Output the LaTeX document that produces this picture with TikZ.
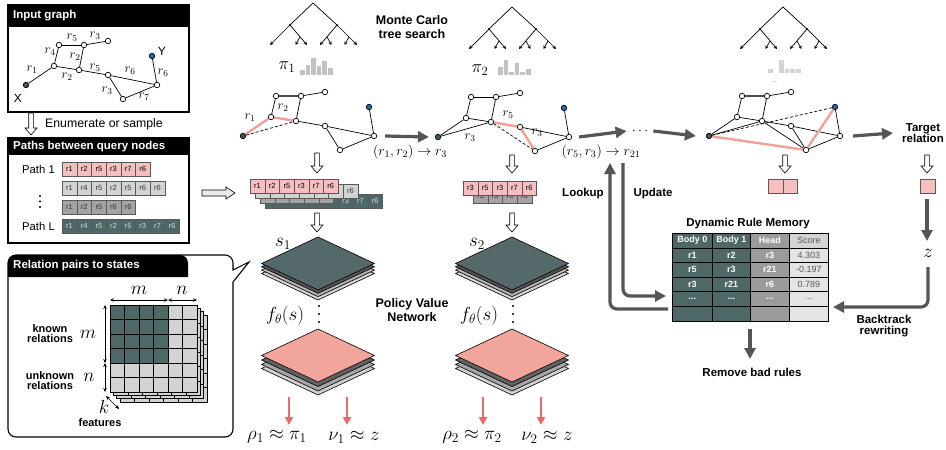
\RequirePackage{fix-cm}
\documentclass[tikz,border=0pt]{standalone}
\usepackage[no-math]{fontspec}
\setmainfont{Liberation Sans}
\usetikzlibrary{arrows.meta}
\definecolor{pinkc}{HTML}{F6BEBE}
\definecolor{salmon}{HTML}{F1A59C}
\definecolor{pinkedge}{HTML}{F2A197}
\definecolor{pinkarrow}{HTML}{E86A6C}
\definecolor{tealc}{HTML}{4D6866}
\definecolor{diamc}{HTML}{56696A}
\definecolor{lgrey}{HTML}{D3D3D3}
\definecolor{mgrey}{HTML}{A3A3A3}
\definecolor{dgrey}{HTML}{555555}
\definecolor{bluenode}{HTML}{2868A8}
\definecolor{xnode}{HTML}{3F5A5A}
\definecolor{headg}{HTML}{9B9B9B}
\definecolor{scoreg}{HTML}{E4E4E4}
\definecolor{barg}{HTML}{C2C2C2}
\newcommand\fsz[1]{\fontsize{#1}{#1}\selectfont}
\newcommand\tdots{...}
\tikzset{
 vtx/.style={circle,draw,fill=white,inner sep=0pt,minimum size=5.5pt,line width=0.7pt},
 vx/.style={vtx,fill=xnode},
 vy/.style={vtx,fill=bluenode},
 gedge/.style={line width=0.7pt},
 pedge/.style={line width=2.4pt,draw=pinkedge},
 dedge/.style={line width=0.7pt,dash pattern=on 3pt off 2pt},
 glab/.style={inner sep=0pt,font=\fsz{13}},
 hdrtxt/.style={anchor=west,text=white,font=\bfseries\fsz{11.5},inner sep=0pt},
 cellbox/.style={draw=black!65,line width=0.5pt,minimum width=14.65pt,minimum height=13.5pt,inner sep=0pt,anchor=north west,font=\fsz{7.5}},
 tdot/.style={circle,fill=black,inner sep=0pt,minimum size=2.2pt},
 tline/.style={line width=0.7pt},
 tarr/.style={line width=0.7pt,-{Stealth[length=3.5pt,width=3.5pt]}},
 bigarrow/.style={draw=dgrey,line width=3.2pt,-{Triangle[length=11pt,width=11pt]},rounded corners=7pt},
 parrow/.style={draw=pinkarrow,line width=2.3pt,-{Triangle[length=8pt,width=8pt]}},
 blab/.style={font=\bfseries\fsz{11.5},align=center,inner sep=1pt},
 bigmath/.style={font=\fsz{19},inner sep=0pt},
 tcell/.style={draw=black,line width=0.6pt,inner sep=0pt,anchor=north west,minimum height=14.6pt,font=\bfseries\fsz{9},text=white},
}
\newcommand\mkgraph[3]{%
 \foreach \n/\x/\y in {a/54/66,b/59/45,c/84/45,d/108/41,e/79/70,f/108/75,g/157/85,h/123/99}
   {\node[vtx] (#1\n) at ({\x+#2},{\y+#3}) {};}
 \node[vx] (#1X) at ({26+#2},{85+#3}) {};
 \node[vy] (#1Y) at ({152+#2},{56+#3}) {};
 \foreach \u/\v in {X/a,a/b,b/c,c/d,c/e,a/e,e/f,f/g,Y/g,f/h,h/g} \draw[gedge] (#1\u) -- (#1\v);
}
\newcommand\cellrow[6]{%
 \foreach \t [count=\i from 0] in {#6}{\node[cellbox,fill=#4,text=#5] (#1\i) at ({#2+\i*14.65},{#3}) {\t};}}
\newcommand\hdown[3]{%
 \draw[line width=0.6pt,fill=white] ({#1-2.3},{#2}) -- ({#1-2.3},{#3-7}) -- ({#1-6},{#3-7}) -- ({#1},{#3}) -- ({#1+6},{#3-7}) -- ({#1+2.3},{#3-7}) -- ({#1+2.3},{#2}) -- cycle;}
\newcommand\vdotsat[3]{%
 \foreach \dy in {0,#3,2*#3} \fill ({#1},{#2+\dy}) circle (1.1);}
\newcommand\mctree[3]{%
 \begin{scope}[shift={(#2,#3)}]
  \coordinate (#1r) at (0,0);
  \node[tdot] (#1L) at (-23,22) {};
  \node[tdot] (#1R) at (24,22) {};
  \draw[tline] (#1r) -- (#1L.center);
  \draw[tline] (#1r) -- (#1R.center);
  \draw[tarr] (#1L.center) -- (-43,42);
  \draw[tarr] (#1L.center) -- (-6,42);
  \draw[tarr] (#1R.center) -- (7,42);
  \draw[tarr] (#1R.center) -- (44,42);
  \draw[tarr] (-13,34) -- (-17.5,42);
  \draw[tarr] (14,34) -- (18.5,42);
  \draw[tarr] (36,34) -- (31.5,42);
 \end{scope}}
\newcommand\bars[4]{%
 \foreach \h [count=\i from 0] in {#4} \fill[#3] ({#1+\i*5.6},{#2}) rectangle ++(4.6,-\h);}
\newcommand\diam[4]{%
 \filldraw[fill=#4,line width=0.6pt] ({#1},{#2+#3}) -- ({#1+56.5},{#2+#3+26.5}) -- ({#1},{#2+#3+53}) -- ({#1-56.5},{#2+#3+26.5}) -- cycle;}
\begin{document}
\begin{tikzpicture}[x=1pt,y=-1pt]
\useasboundingbox (0,0) rectangle (946,450);

% ---------- Box 1: input graph
\fill (8,5) rectangle (189,27);
\draw[line width=1.1pt] (8,5) rectangle (189,112);
\node[hdrtxt] (h1) at (13,16) {Input graph};
\mkgraph{G}{0}{0}
\foreach \t/\x/\y [count=\i] in {1/32/70,4/50/52,5/72/38,3/95/36,2/75/57,2/67/77,5/95/68,6/130/71,6/163/73,3/107/91,7/144/97}
  \node[glab] (gl\i) at (\x,\y) {$r_{\t}$};
\node[font=\fsz{12},inner sep=0pt] (lx) at (18,98) {X};
\node[font=\fsz{12},inner sep=0pt] (ly) at (162,51) {Y};

\hdown{31}{113}{135}
\node[anchor=west,font=\fsz{12.3},inner sep=0pt] (enum) at (45,124) {Enumerate or sample};

% ---------- Box 2: paths
\fill (8,138) rectangle (189,155);
\draw[line width=1.1pt] (8,138) rectangle (189,243);
\node[hdrtxt] (h2) at (13,146.5) {Paths between query nodes};
\cellrow{pa}{62}{162}{pinkc}{black}{r1,r2,r5,r3,r7,r6}
\cellrow{pb}{62}{181}{lgrey}{black!80}{r1,r4,r5,r2,r5,r6,r6}
\cellrow{pc}{62}{200}{mgrey}{black!80}{r1,r2,r5,r6,r6}
\cellrow{pd}{62}{219}{tealc}{white!85!black}{r1,r4,r5,r2,r5,r3,r7,r6}
\node[anchor=east,font=\fsz{11.3},inner sep=0pt] (p1l) at (55,169) {Path 1};
\node[anchor=east,font=\fsz{11.3},inner sep=0pt] (pLl) at (55,226) {Path L};
\vdotsat{40}{196}{5.5}

% ---------- Box 3: relation pairs (speech bubble)
\fill (8,277) {[rounded corners=8pt] -- (8,255) -- (188,255)} -- (188,277) -- cycle;
\draw[line width=1.1pt] (249,262) -- (233,270) [rounded corners=8pt] -- (233,255) -- (8,255) -- (8,437) -- (233,437) [sharp corners] -- (233,282) -- cycle;
\node[hdrtxt] (h3) at (13,266) {Relation pairs to states};
\foreach \o in {10,6.6,3.3}{
  \filldraw[fill=lgrey,line width=0.6pt] ({110+\o},{305+\o}) rectangle ++(87,87);
  \foreach \k in {1,...,5}{
    \draw[line width=0.6pt] ({110+\o+\k*14.5},{305+\o}) -- ++(0,87);
    \draw[line width=0.6pt] ({110+\o},{305+\o+\k*14.5}) -- ++(87,0);}}
\filldraw[fill=lgrey,line width=0.7pt] (110,305) rectangle ++(87,87);
\fill[tealc] (110,305) rectangle ++(58,58);
\foreach \k in {1,...,5}{
  \draw[line width=0.6pt] ({110+\k*14.5},305) -- ++(0,87);
  \draw[line width=0.6pt] (110,{305+\k*14.5}) -- ++(87,0);}
\draw[line width=0.7pt] (110,305) rectangle ++(87,87);
\coordinate (mh0) at (110,300); \coordinate (mh1) at (168,300); \coordinate (mh2) at (197,300);
\coordinate (mv0) at (105,305); \coordinate (mv1) at (105,363); \coordinate (mv2) at (105,392);
\coordinate (mk0) at (106,396); \coordinate (mk1) at (119,409);
\draw[{Stealth[length=4pt,width=3.5pt]}-{Stealth[length=4pt,width=3.5pt]},line width=0.7pt] (mh0) -- (mh1);
\draw[{Stealth[length=4pt,width=3.5pt]}-{Stealth[length=4pt,width=3.5pt]},line width=0.7pt] (mh1) -- (mh2);
\draw[{Stealth[length=4pt,width=3.5pt]}-{Stealth[length=4pt,width=3.5pt]},line width=0.7pt] (mv0) -- (mv1);
\draw[{Stealth[length=4pt,width=3.5pt]}-{Stealth[length=4pt,width=3.5pt]},line width=0.7pt] (mv1) -- (mv2);
\draw[{Stealth[length=4pt,width=3.5pt]}-{Stealth[length=4pt,width=3.5pt]},line width=0.7pt] (mk0) -- (mk1);
\node[bigmath] (lm1) at (139,290) {$m$};
\node[bigmath] (ln1) at (182,290) {$n$};
\node[bigmath] (lm2) at (88,334) {$m$};
\node[bigmath] (ln2) at (89,377) {$n$};
\node[bigmath] (lk) at (104,407) {$k$};
\node[blab,font=\bfseries\fsz{11}] (known) at (50,334) {known\\[-1pt]relations};
\node[blab,font=\bfseries\fsz{11}] (unknown) at (50,381) {unknown\\[-1pt]relations};
\node[blab,font=\bfseries\fsz{11}] (feat) at (100,423) {features};

% ---------- MCTS trees and distributions
\mctree{t1}{313}{3}
\mctree{t2}{512}{7}
\mctree{t3}{783}{7}
\node[blab,font=\bfseries\fsz{12.5},align=center] (mcts) at (412,27) {Monte Carlo\\[1pt]tree search};
\node[bigmath,font=\fsz{18}] (pi1) at (287,67) {$\pi_1$};
\bars{300}{75}{barg}{5,10,17,9,14,7}
\node[bigmath,font=\fsz{18}] (pi2) at (480,70) {$\pi_2$};
\bars{498}{75}{barg}{8,15,3,12,3,6}
\bars{768}{73}{barg!70}{4,0,13,4,4,4}
\fill[barg!50] (771,80.5) rectangle (777,82);

% ---------- Graphs along the search
\mkgraph{B}{217}{51}
\draw[line width=1.3pt,black!70] (Bb) -- (Bc);
\draw[pedge] (BX) -- (Ba);
\draw[pedge] (Ba) -- (Be);
\draw[dedge] (BX) -- (Be);
\node[glab] (b1) at (250,118) {$r_1$};
\node[glab] (b2) at (283,108) {$r_2$};

\mkgraph{C}{412}{52}
\draw[gedge] (CX) -- (Ce);
\draw[pedge] (Ce) -- (Cf);
\draw[pedge] (Cf) -- (Ch);
\draw[dedge] (Ce) -- (Ch);
\node[glab] (c1) at (508,115) {$r_5$};
\node[glab] (c2) at (537,133) {$r_3$};
\node[glab] (c3) at (470,138) {$r_3$};

\mkgraph{D}{683}{51}
\draw[line width=1.3pt,black!70] (Db) -- (Dc);
\draw[gedge] (DX) -- (De);
\draw[gedge] (De) -- (Dh);
\draw[pedge] (DX) -- (Dh);
\draw[pedge] (Dh) -- (DY);
\draw[dedge] (DX) -- (DY);

% ---------- transitions
\node[font=\fsz{14},inner sep=1pt] (dots) at (640,131) {$\cdots$};
\node[blab] (tgt) at (923,133) {Target\\[-1pt]relation};
\draw[bigarrow] ([xshift=8pt]Bg.east) -- ([xshift=-6pt]CX.west);
\draw[bigarrow] ([xshift=7pt]Cg.east) -- ([xshift=-4pt]dots.west);
\draw[bigarrow] ([xshift=4pt]dots.east) -- ([xshift=-10pt]DX.west);
\draw[bigarrow] ([xshift=10pt]Dg.east) -- ([xshift=-8pt]tgt.west);
\node[font=\fsz{14},inner sep=0pt] (tr1) at (410,152) {$(r_1,r_2)\rightarrow r_3$};
\node[font=\fsz{14},inner sep=0pt] (tr2) at (601,152) {$(r_5,r_3)\rightarrow r_{21}$};

% ---------- hollow arrows
\hdown{317}{153}{173}
\hdown{317}{213}{232}
\hdown{512}{155}{173}
\hdown{512}{213}{232}
\hdown{785}{155}{173}
\hdown{927}{155}{173}
\draw[line width=0.6pt,fill=black!8] (202,190) -- (226,190) -- (226,187) -- (235,193) -- (226,199) -- (226,196) -- (202,196) -- cycle;

% ---------- stacked paths
\cellrow{sd}{265}{194}{tealc}{white!85!black}{r1,r4,r5,r2,r5,r3,r7,r6}
\cellrow{sc}{260}{189}{mgrey}{black!80}{r1,r2,r5,r6,r6}
\cellrow{sb}{255}{184}{lgrey}{black!80}{r1,r4,r5,r2,r5,r6,r6}
\cellrow{sa}{250}{179}{pinkc}{black}{r1,r2,r5,r3,r7,r6}
\cellrow{ub}{473}{189}{mgrey}{black!80}{r3,r5,r6,r6}
\cellrow{ua}{463}{181}{pinkc}{black}{r3,r5,r3,r7,r6}
\cellrow{tb}{768}{179}{pinkc}{black}{{},{}}
\cellrow{tt}{920}{179}{pinkc}{black}{{}}

% ---------- policy value network stacks
\foreach \cx in {318,512}{
 \diam{\cx}{237}{10}{black!18}
 \diam{\cx}{237}{6.6}{black!30}
 \diam{\cx}{237}{3.3}{dgrey}
 \diam{\cx}{237}{0}{diamc}
 \diam{\cx}{329}{13}{black!18}
 \diam{\cx}{329}{9}{black!35}
 \diam{\cx}{329}{4.5}{black!62}
 \diam{\cx}{329}{0}{salmon}
 \vdotsat{\cx+1}{306}{8}
}
\node[bigmath] (s1) at (283,244) {$s_1$};
\node[bigmath] (s2) at (477,244) {$s_2$};
\node[bigmath] (f1) at (285,316) {$f_\theta(s)$};
\node[bigmath] (f2) at (479,316) {$f_\theta(s)$};
\node[blab,font=\bfseries\fsz{12.5}] (pvn) at (412,310) {Policy Value\\[1pt]Network};
\node[bigmath] (o1) at (277,437) {$\rho_1\approx\pi_1$};
\node[bigmath] (o2) at (354,437) {$\nu_1\approx z$};
\node[bigmath] (o3) at (472,437) {$\rho_2\approx\pi_2$};
\node[bigmath] (o4) at (547,437) {$\nu_2\approx z$};
\foreach \x [count=\i] in {289,347,483,541}{
  \coordinate (pa\i) at (\x,397); \coordinate (pb\i) at (\x,425);
  \draw[parrow] (pa\i) -- (pb\i);}

% ---------- dynamic rule memory
\node[blab,font=\bfseries\fsz{11.5}] (drm) at (748,224) {Dynamic Rule Memory};
\foreach \ca/\cb/\cc/\cd [count=\k from 0] in {{Body 0}/{Body 1}/Head/Score, r1/r2/r3/4.303, r5/r3/r21/-0.197, r3/r21/r6/0.789, \tdots/\tdots/\tdots/\tdots, {}/{}/{}/{}}{
  \node[tcell,fill=tealc,minimum width=40pt] (m\k a) at (672,{233+\k*14.6}) {\ca};
  \node[tcell,fill=tealc,minimum width=38pt] (m\k b) at (712,{233+\k*14.6}) {\cb};
  \node[tcell,fill=headg,minimum width=39pt] (m\k c) at (750,{233+\k*14.6}) {\cc};
  \node[tcell,fill=scoreg,minimum width=39pt,font=\fsz{9},text=black!65] (m\k d) at (789,{233+\k*14.6}) {\cd};
}
\node[tcell,fill=black!17,minimum width=39pt,font=\fsz{9},text=black!65] (m0dh) at (789,233) {Score};

\coordinate (lkA) at (668,309); \coordinate (lkB) at (610,163);
\draw[bigarrow] (lkA) -| (lkB);
\coordinate (upA) at (623,163); \coordinate (upB) at (666,296);
\draw[bigarrow] (upA) |- (upB);
\node[blab] (lookup) at (583,194) {Lookup};
\node[blab] (update) at (653,194) {Update};

\coordinate (tgA) at (927,199); \coordinate (tgB) at (927,241);
\draw[bigarrow] (tgA) -- (tgB);
\node[bigmath] (z) at (928,253) {$z$};
\coordinate (btA) at (928,267); \coordinate (btB) at (833,307);
\draw[bigarrow] (btA) |- (btB);
\node[blab] (bt) at (884,326) {Backtrack\\[-1pt]rewriting};
\coordinate (rmA) at (750,329); \coordinate (rmB) at (750,359);
\draw[bigarrow] (rmA) -- (rmB);
\node[blab] (rm) at (752,372) {Remove bad rules};
\end{tikzpicture}
\end{document}
